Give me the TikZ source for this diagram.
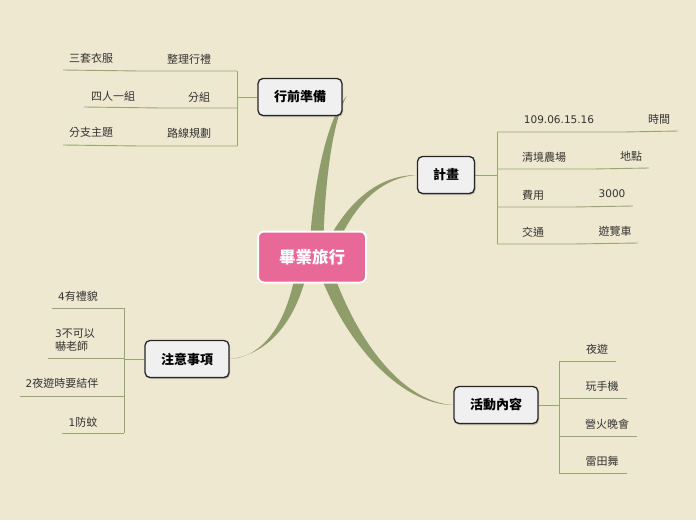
\documentclass[tikz,border=0pt]{standalone}
\usepackage{fontspec}
\setmainfont{Noto Sans CJK TC}
\newfontfamily\digitfont{DejaVu Sans}
\usetikzlibrary{calc,shadows}
\pgfdeclarelayer{bg}
\pgfsetlayers{bg,main}
\definecolor{paper}{RGB}{238,232,208}
\definecolor{olive}{RGB}{143,157,106}
\definecolor{twigc}{RGB}{150,166,112}
\definecolor{rosy}{RGB}{232,105,152}
\definecolor{ink}{RGB}{50,50,50}
\newcommand{\num}[1]{{\digitfont\fontsize{10.5}{13}\selectfont #1}}

\begin{document}
\begin{tikzpicture}[x=1pt, y=-1pt,
        rootbox/.style={draw=white, line width=2pt, fill=rosy, rounded corners=6pt,
                minimum width=108pt, minimum height=51pt, text=white,
                font=\fontsize{16.5}{18}\selectfont\bfseries},
        topic/.style={draw=black!85, line width=1.3pt, fill=black!6, rounded corners=5pt,
                minimum width=84pt, minimum height=37pt,
                font=\fontsize{13}{15}\selectfont\bfseries,
                drop shadow={shadow xshift=1pt, shadow yshift=-1.5pt, opacity=0.45}},
        leaf/.style={inner sep=0pt, text=ink, font=\fontsize{11}{13}\selectfont},
        limb/.style={fill=olive},
        twig/.style={draw=twigc, line width=0.9pt}]
        \node (root) [rootbox] at (312,257) {畢業旅行};
        \node (pre) [topic] at (300,97) {行前準備};
        \node (plan) [topic, minimum width=57pt] at (446,175) {計畫};
        \node (note) [topic] at (187,359) {注意事項};
        \node (act) [topic] at (496,405) {活動內容};
        % 行前準備
        \node (pre1) [leaf] at (189,59) {整理行禮};
        \node (pre1x) [leaf] at (91,58) {三套衣服};
        \node (pre2) [leaf] at (199,97) {分組};
        \node (pre2x) [leaf] at (113,96) {四人一組};
        \node (pre3) [leaf] at (189,133) {路線規劃};
        \node (pre3x) [leaf] at (91,132) {分支主題};
        % 計畫
        \node (plan1) [leaf] at (559,120) {\num{109.06.15.16}};
        \node (plan1x) [leaf] at (659,119) {時間};
        \node (plan2) [leaf] at (544,157) {清境農場};
        \node (plan2x) [leaf] at (631,156) {地點};
        \node (plan3) [leaf] at (533,195) {費用};
        \node (plan3x) [leaf] at (612,194) {\num{3000}};
        \node (plan4) [leaf] at (533,232) {交通};
        \node (plan4x) [leaf] at (615,231) {遊覽車};
        % 注意事項
        \node (note1) [leaf] at (78,296) {\num{4}有禮貌};
        \node (note2) [leaf, align=left] at (75,340) {\num{3}不可以\\嚇老師};
        \node (note3) [leaf] at (62,383) {\num{2}夜遊時要結伴};
        \node (note4) [leaf] at (83,422) {\num{1}防蚊};
        % 活動內容
        \node (act1) [leaf] at (597,349) {夜遊};
        \node (act2) [leaf] at (602,386) {玩手機};
        \node (act3) [leaf] at (607,424) {營火晚會};
        \node (act4) [leaf] at (602,461) {雷田舞};
        % junctions
        \coordinate (preS) at (237,97);
        \coordinate (pre1s) at (237,71);
        \coordinate (pre1m) at (140,71);
        \coordinate (pre1e) at (63,70);
        \coordinate (pre2s) at (237,108);
        \coordinate (pre2m) at (162,108);
        \coordinate (pre2e) at (84,107);
        \coordinate (pre3s) at (237,146);
        \coordinate (pre3m) at (140,146);
        \coordinate (pre3e) at (63,145);
        \coordinate (planS) at (497,175);
        \coordinate (plan1s) at (497,132);
        \coordinate (plan1m) at (623,132);
        \coordinate (plan1e) at (678,131);
        \coordinate (plan2s) at (497,169);
        \coordinate (plan2m) at (593,169);
        \coordinate (plan2e) at (649,168);
        \coordinate (plan3s) at (497,207);
        \coordinate (plan3m) at (573,207);
        \coordinate (plan3e) at (633,206);
        \coordinate (plan4s) at (497,244);
        \coordinate (plan4m) at (573,244);
        \coordinate (plan4e) at (638,243);
        \coordinate (noteS) at (124,359);
        \coordinate (note1s) at (124,308);
        \coordinate (note1e) at (52,308);
        \coordinate (note2s) at (124,358);
        \coordinate (note2e) at (48,358);
        \coordinate (note3s) at (124,396);
        \coordinate (note3e) at (20,396);
        \coordinate (note4s) at (124,433);
        \coordinate (note4e) at (62,433);
        \coordinate (actS) at (559,405);
        \coordinate (act1s) at (559,361);
        \coordinate (act1e) at (616,361);
        \coordinate (act2s) at (559,398);
        \coordinate (act2e) at (627,398);
        \coordinate (act3s) at (559,436);
        \coordinate (act3e) at (637,436);
        \coordinate (act4s) at (559,473);
        \coordinate (act4e) at (627,473);
        \begin{pgfonlayer}{bg}
                \fill[paper] (0,0) rectangle (696,520);
                \fill[limb] ($(root.center)+(-3,0)$) .. controls (312,190) and (326,120) .. ($(pre.east)+(4,-1)$)
                        .. controls (331,125) and (324,190) .. ($(root.center)+(11,0)$) -- cycle;
                \fill[limb] ($(root.center)+(8,0)$) .. controls (345,200) and (380,175) .. (plan.west)
                        .. controls (380,178) and (352,205) .. ($(root.center)+(20,0)$) -- cycle;
                \fill[limb] ($(root.center)+(-14,0)$) .. controls (290,320) and (265,357) .. (note.east)
                        .. controls (268,355) and (300,320) .. ($(root.center)+(-2,0)$) -- cycle;
                \fill[limb] ($(root.center)+(2,0)$) .. controls (340,340) and (400,405) .. (act.west)
                        .. controls (400,402) and (352,335) .. ($(root.center)+(16,0)$) -- cycle;
                \draw[twig] (pre.west) -- (preS);
                \draw[twig] (pre1s) -- (pre3s);
                \draw[twig] (pre1s) -- (pre1m) -- (pre1e);
                \draw[twig] (pre2s) -- (pre2m) -- (pre2e);
                \draw[twig] (pre3s) -- (pre3m) -- (pre3e);
                \draw[twig] (plan.east) -- (planS);
                \draw[twig] (plan1s) -- (plan4s);
                \draw[twig] (plan1s) -- (plan1m) -- (plan1e);
                \draw[twig] (plan2s) -- (plan2m) -- (plan2e);
                \draw[twig] (plan3s) -- (plan3m) -- (plan3e);
                \draw[twig] (plan4s) -- (plan4m) -- (plan4e);
                \draw[twig] (note.west) -- (noteS);
                \draw[twig] (note1s) -- (note4s);
                \draw[twig] (note1s) -- (note1e);
                \draw[twig] (note2s) -- (note2e);
                \draw[twig] (note3s) -- (note3e);
                \draw[twig] (note4s) -- (note4e);
                \draw[twig] (act.east) -- (actS);
                \draw[twig] (act1s) -- (act4s);
                \draw[twig] (act1s) -- (act1e);
                \draw[twig] (act2s) -- (act2e);
                \draw[twig] (act3s) -- (act3e);
                \draw[twig] (act4s) -- (act4e);
        \end{pgfonlayer}
\end{tikzpicture}
\end{document}
